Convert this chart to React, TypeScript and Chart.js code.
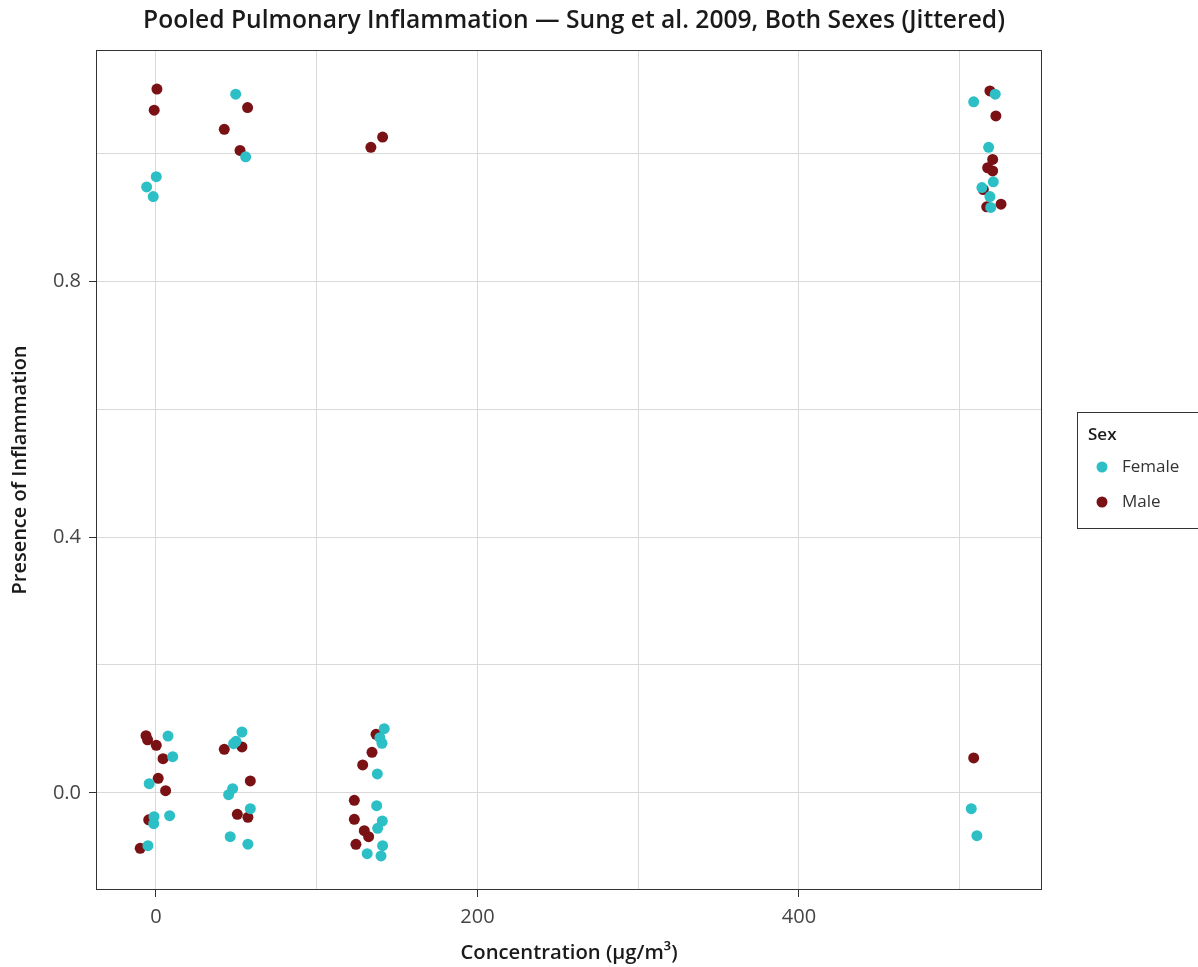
import React, { useEffect, useRef } from "react";
import { Chart, registerables } from "chart.js";

Chart.register(...registerables);

const TITLE = "Pooled Pulmonary Inflammation — Sung et al. 2009, Both Sexes (Jittered)";
const X_TITLE = "Concentration (µg/m³)";
const Y_TITLE = "Presence of Inflammation";
const SERIES_NAMES = ["Female", "Male"];
const SERIES_COLORS = ["#2DBFC6", "#7A1215"];

const femaleX = [
  49.6, 55.8, 0.2, -5.8, -1.7,
  522.1, 508.7, 518.0, 520.9, 513.8, 518.8, 519.3,
  7.5, 10.4, -4.2, -1.2, -1.4, 8.5, -5.0,
  53.5, 48.3, 49.8, 47.7, 45.2, 58.7, 46.2, 57.2,
  142.0, 139.3, 140.6, 137.7, 137.3, 140.8, 137.9, 141.0, 131.4, 140.0,
  507.2, 510.7,
];
const femaleY = [
  1.092, 0.994, 0.963, 0.947, 0.932,
  1.092, 1.08, 1.009, 0.955, 0.946, 0.932, 0.915,
  0.089, 0.0567, 0.0145, -0.037, -0.048, -0.0355, -0.0823,
  0.0953, 0.077, 0.0808, 0.0067, -0.0027, -0.0245, -0.0683, -0.08,
  0.1005, 0.0864, 0.0777, 0.0297, -0.0198, -0.0438, -0.0552, -0.0823, -0.0948, -0.0984,
  -0.0245, -0.0667,
];
const maleX = [
  0.6, -1.1, 42.5, 57.0, 52.3, 141.0, 133.7,
  518.8, 522.5, 520.5, 517.4, 520.5, 514.7, 525.7, 516.8,
  -6.2, -5.2, 0.2, 4.4, 1.4, 6.0, -4.5, -9.8,
  42.5, 53.5, 58.7, 50.6, 57.2,
  136.9, 134.4, 128.6, 123.4, 123.4, 129.6, 132.3, 124.4,
  508.7,
];
const maleY = [
  1.1, 1.067, 1.037, 1.071, 1.004, 1.025, 1.009,
  1.097, 1.058, 0.99, 0.977, 0.972, 0.943, 0.92, 0.916,
  0.0895, 0.083, 0.0745, 0.0536, 0.023, 0.0036, -0.042, -0.0864,
  0.0683, 0.0719, 0.0188, -0.0333, -0.038,
  0.0917, 0.0636, 0.0438, -0.0114, -0.0411, -0.0589, -0.0683, -0.0802,
  0.0547,
];

const X_MIN = -37.3;
const X_MAX = 551.2;
const Y_MIN = -0.1516;
const Y_MAX = 1.161;

const FONT = "'Open Sans', Roboto, sans-serif";

const toPoints = (xs: number[], ys: number[]) => xs.map((x, i) => ({ x, y: ys[i] }));

const overlayPlugin = {
  id: "overlay",
  afterDraw(chart: any) {
    const { ctx, chartArea: a } = chart;
    ctx.save();
    // panel border
    ctx.strokeStyle = "#333333";
    ctx.lineWidth = 1;
    ctx.strokeRect(a.left + 0.5, a.top + 0.5, a.right - a.left - 1, a.bottom - a.top - 1);
    // title
    ctx.fillStyle = "#1a1a1a";
    ctx.font = `600 24.6px ${FONT}`;
    ctx.textAlign = "center";
    ctx.textBaseline = "middle";
    ctx.fillText(TITLE, (a.left + a.right) / 2 + 5, 21);
    // legend
    const lx = 1077.5, ly = 412.5, lw = 130, lh = 116;
    ctx.strokeStyle = "#333333";
    ctx.strokeRect(lx, ly, lw, lh);
    ctx.textAlign = "left";
    ctx.fillStyle = "#1a1a1a";
    ctx.font = `600 17px ${FONT}`;
    ctx.fillText("Sex", 1088, 435);
    ctx.font = `17px ${FONT}`;
    SERIES_NAMES.forEach((name, i) => {
      const cy = 467 + i * 35;
      ctx.fillStyle = SERIES_COLORS[i];
      ctx.beginPath();
      ctx.arc(1102, cy, 5.5, 0, Math.PI * 2);
      ctx.fill();
      ctx.fillStyle = "#333333";
      ctx.fillText(name, 1122, cy);
    });
    ctx.restore();
  },
};

export default function App() {
  const ref = useRef<HTMLCanvasElement | null>(null);
  useEffect(() => {
    if (!ref.current) return;
    const isMajorX = (v: number) => Math.abs(Math.round(v) % 200) === 0;
    const isMajorY = (v: number) => Math.abs(Math.round(v * 10) % 4) === 0;
    const chart = new Chart(ref.current, {
      type: "scatter",
      data: {
        datasets: [
          {
            label: SERIES_NAMES[0],
            data: toPoints(femaleX, femaleY),
            backgroundColor: SERIES_COLORS[0],
            borderWidth: 0,
            pointRadius: 5.5,
            pointHoverRadius: 5.5,
          },
          {
            label: SERIES_NAMES[1],
            data: toPoints(maleX, maleY),
            backgroundColor: SERIES_COLORS[1],
            borderWidth: 0,
            pointRadius: 5.5,
            pointHoverRadius: 5.5,
          },
        ],
      },
      options: {
        responsive: false,
        animation: false,
        devicePixelRatio: 1,
        layout: { padding: { left: 0, top: 50, right: 156, bottom: 0 } },
        plugins: {
          legend: { display: false },
          tooltip: { enabled: false },
          title: { display: false },
        },
        scales: {
          x: {
            type: "linear",
            min: X_MIN,
            max: X_MAX,
            afterFit: (s: any) => {
              s.height = 967 - 890;
            },
            ticks: {
              stepSize: 100,
              includeBounds: false,
              autoSkip: false,
              maxRotation: 0,
              padding: 8,
              color: "#444444",
              font: { family: FONT, size: 20 },
              callback: (v: any) => (isMajorX(Number(v)) ? String(Math.round(Number(v))) : ""),
            },
            grid: {
              color: "#d9d9d9",
              lineWidth: 1,
              tickLength: 7,
              tickColor: (c: any) => (isMajorX(c.tick?.value ?? 1) ? "#333333" : "rgba(0,0,0,0)"),
            },
            border: { display: false },
            title: {
              display: true,
              text: X_TITLE,
              color: "#1a1a1a",
              font: { family: FONT, size: 20.3, weight: "600" },
              padding: { top: 0, bottom: 2 },
            },
          },
          y: {
            type: "linear",
            min: Y_MIN,
            max: Y_MAX,
            afterFit: (s: any) => {
              s.width = 96;
            },
            ticks: {
              stepSize: 0.2,
              includeBounds: false,
              autoSkip: false,
              padding: 8,
              color: "#444444",
              font: { family: FONT, size: 20 },
              callback: (v: any) => (isMajorY(Number(v)) ? Number(v).toFixed(1) : ""),
            },
            grid: {
              color: "#d9d9d9",
              lineWidth: 1,
              tickLength: 7,
              tickColor: (c: any) => (isMajorY(c.tick?.value ?? 0.1) ? "#333333" : "rgba(0,0,0,0)"),
            },
            border: { display: false },
            title: {
              display: true,
              text: Y_TITLE,
              color: "#1a1a1a",
              font: { family: FONT, size: 20, weight: "600" },
              padding: { top: 8, bottom: 0 },
            },
          },
        },
      },
      plugins: [overlayPlugin],
    } as any);
    return () => chart.destroy();
  }, []);
  return (
    <div style={{ position: "absolute", left: 0, top: 0, width: 1198, height: 967, background: "#fff" }}>
      <canvas ref={ref} width={1198} height={967} />
    </div>
  );
}
